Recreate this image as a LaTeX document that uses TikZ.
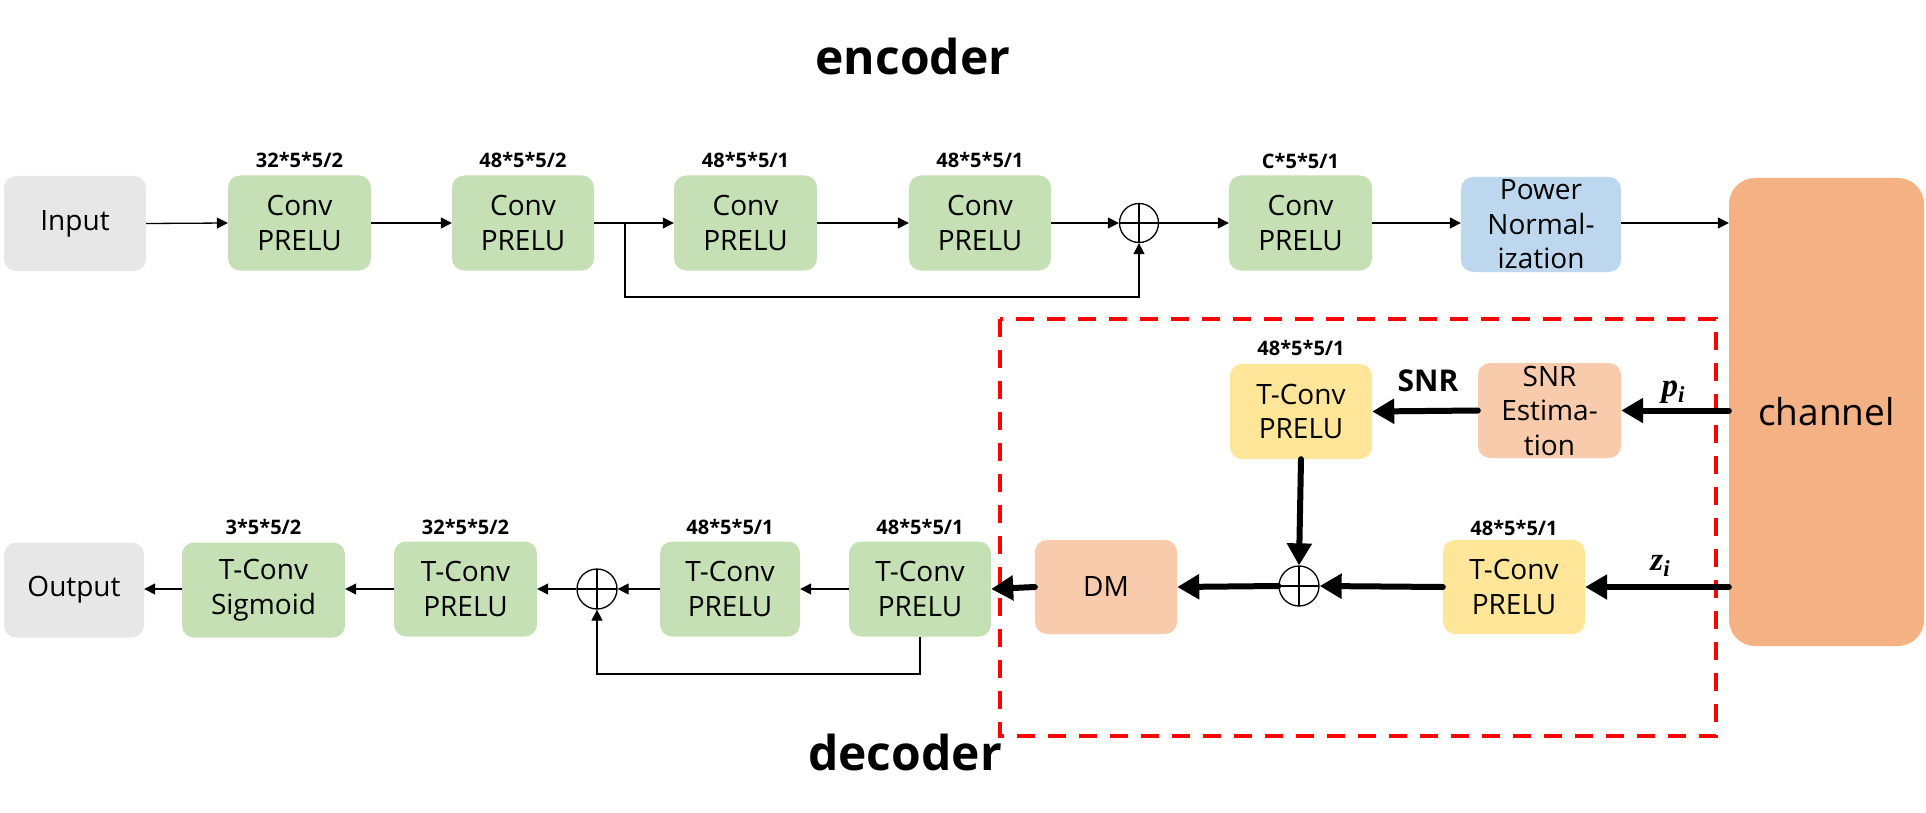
\documentclass[tikz,border=0pt]{standalone}
\usepackage{fontspec}
\setmainfont{Open Sans}
\newfontfamily\symfnt{Liberation Serif}
\usetikzlibrary{arrows.meta,calc}
\definecolor{cgray}{HTML}{E7E7E7}
\definecolor{cgreen}{HTML}{C5E0B4}
\definecolor{cblue}{HTML}{BDD7EE}
\definecolor{corange}{HTML}{F4B183}
\definecolor{cpeach}{HTML}{F8CBAD}
\definecolor{cyellow}{HTML}{FFE699}
\newcommand\boxfnt{\fontsize{28}{34.5}\selectfont}
\newcommand\lblfnt{\fontsize{20}{24}\selectfont\bfseries}
\newcommand\varsym[2]{{\symfnt\bfseries\itshape\fontsize{33}{36}\selectfont #1\raisebox{-6pt}{\fontsize{23}{26}\selectfont #2}}}
\begin{document}
\begin{tikzpicture}[x=1pt,y=-1pt,
  blk/.style={rounded corners=12pt, draw=none, minimum width=142pt, minimum height=95pt,
    inner sep=0pt, align=center, font=\boxfnt},
  lbl/.style={font=\lblfnt, inner sep=0pt},
  opl/.style={circle, draw, line width=1.3pt, minimum size=39pt, inner sep=0pt, fill=white,
    path picture={\draw[line width=1.3pt] (path picture bounding box.north) -- (path picture bounding box.south)
      (path picture bounding box.west) -- (path picture bounding box.east);}},
  thin/.style={line width=1.3pt, -{Triangle[length=11pt,width=11pt]}},
  thick/.style={line width=6pt, line cap=round, -{Triangle[length=22pt,width=24pt]}},
  ttl/.style={font=\fontsize{48}{56}\selectfont\bfseries, inner sep=0pt, anchor=base},
  mth/.style={inner sep=0pt}
]
\useasboundingbox (0,0) rectangle (1926,813);

% titles
\node[ttl] (enc) at (913,75) {encoder};
\node[ttl] (dec) at (905,770) {decoder};

% encoder row
\node[blk, fill=cgray] (inp) at (75,223.5) {Input};
\node[blk, fill=cgreen, minimum width=143pt] (c1) at (299.5,223) {Conv\\PRELU};
\node[blk, fill=cgreen] (c2) at (523,223) {Conv\\PRELU};
\node[blk, fill=cgreen, minimum width=143pt] (c3) at (745.5,223) {Conv\\PRELU};
\node[blk, fill=cgreen] (c4) at (980,223) {Conv\\PRELU};
\node[opl] (op1) at (1139,223) {};
\node[blk, fill=cgreen, minimum width=143pt] (c5) at (1300.5,223) {Conv\\PRELU};
\node[blk, fill=cblue, minimum width=160pt] (pn) at (1541,224.5) {Power\\Normal-\\ization};
\node[blk, fill=corange, minimum width=195pt, minimum height=468pt, rounded corners=26pt,
  font=\fontsize{37}{44}\selectfont] (ch) at (1826.5,412) {channel};

\node[lbl] (l1) at (299.5,160) {32*5*5/2};
\node[lbl] (l2) at (523,160) {48*5*5/2};
\node[lbl] (l3) at (745.5,160) {48*5*5/1};
\node[lbl] (l4) at (980,160) {48*5*5/1};
\node[lbl] (l5) at (1300.5,161) {C*5*5/1};

\draw[thin] (inp.east) -- (c1.west);
\draw[thin] (c1.east) -- (c2.west);
\draw[thin] (c2.east) -- (c3.west);
\draw[thin] (c3.east) -- (c4.west);
\draw[thin] (c4.east) -- (op1.west);
\draw[thin] (op1.east) -- (c5.west);
\draw[thin] (c5.east) -- (pn.west |- c5.east);
\draw[thin] (pn.east |- c5.east) -- (ch.west |- c5.east);
\coordinate (br1) at (625,223);
\coordinate (br1b) at (625,297);
\draw[thin] (br1) -- (br1b) -- (br1b -| op1) -- (op1.south);

% decoder dashed frame
\draw[red, line width=4pt, dash pattern=on 18pt off 13pt] (1000,319) rectangle (1716,736);

\node[blk, fill=cyellow] (tc1) at (1301,411.5) {T-Conv\\PRELU};
\node[blk, fill=cpeach, minimum width=143pt] (snr) at (1549.5,410.5) {SNR\\Estima-\\tion};
\node[blk, fill=cyellow, minimum height=94pt] (tc2) at (1514,587) {T-Conv\\PRELU};
\node[opl, minimum size=40pt] (op2) at (1299,586) {};
\node[blk, fill=cpeach, minimum height=94pt] (dm) at (1106,587) {DM};

\node[lbl] (l6) at (1301,348) {48*5*5/1};
\node[lbl] (l7) at (1514,528) {48*5*5/1};
\node[font=\fontsize{30}{36}\selectfont\bfseries, inner sep=0pt] (snrl) at (1428,380.5) {SNR};
\node[mth] (pi) at (1673,392) {\varsym{p}{i}};
\node[mth] (zi) at (1660,566) {\varsym{z}{i}};

\draw[thick] (ch.west |- snr.east) -- (snr.east);
\draw[thick] (snr.west) -- (tc1.east);
\draw[thick] (tc1.south) -- (op2.north);
\draw[thick] (ch.west |- tc2.east) -- (tc2.east);
\draw[thick] (tc2.west) -- (op2.east);
\draw[thick] (op2.west) -- (dm.east);

% decoder row
\node[blk, fill=cgreen] (tc4) at (920,589) {T-Conv\\PRELU};
\node[blk, fill=cgreen, minimum width=140pt] (tc3) at (730,589) {T-Conv\\PRELU};
\node[opl, minimum size=40pt] (op3) at (597,589) {};
\node[blk, fill=cgreen, minimum width=143pt] (tc5) at (465.5,589) {T-Conv\\PRELU};
\node[blk, fill=cgreen, minimum width=163pt] (sig) at (263.5,590) {T-Conv\\Sigmoid};
\node[blk, fill=cgray, minimum width=140pt] (out) at (74,590) {Output};

\draw[thick] (dm.west) -- (tc4.east);

\node[lbl] (l8) at (920,527) {48*5*5/1};
\node[lbl] (l9) at (730,527) {48*5*5/1};
\node[lbl] (l10) at (465.5,527) {32*5*5/2};
\node[lbl] (l11) at (263.5,527) {3*5*5/2};

\draw[thin] (tc4.west) -- (tc3.east);
\draw[thin] (tc3.west) -- (op3.east);
\draw[thin] (op3.west) -- (tc5.east);
\draw[thin] (tc5.west) -- (sig.east |- tc5.west);
\draw[thin] (sig.west |- tc5.west) -- (out.east |- tc5.west);
\coordinate (br2) at (920,674);
\draw[thin] (tc4.south) -- (br2) -- (br2 -| op3) -- (op3.south);
\end{tikzpicture}
\end{document}
